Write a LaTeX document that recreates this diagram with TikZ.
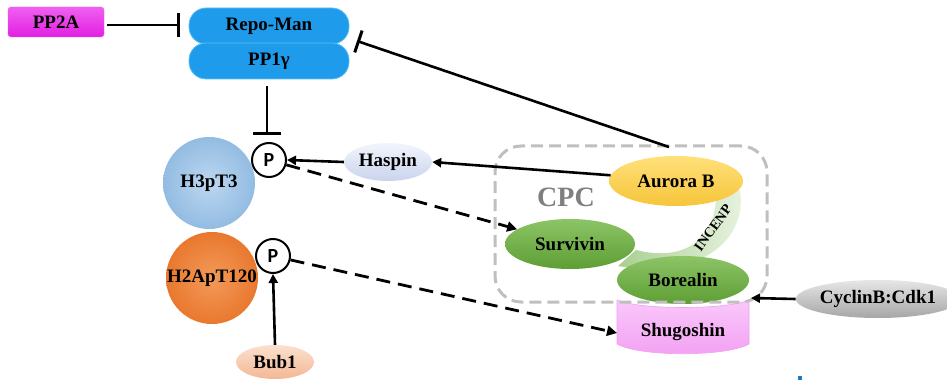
\documentclass[tikz,border=0pt]{standalone}
\usepackage{fontspec}
\setmainfont{Liberation Serif}
\newfontfamily\pfont{Carlito}
\usetikzlibrary{shapes.geometric,arrows.meta,calc}
\definecolor{magA}{HTML}{E21FE2}
\definecolor{magB}{HTML}{F060F0}
\definecolor{blueA}{HTML}{1E9BEA}
\definecolor{blueB}{HTML}{5CC0F5}
\definecolor{lblueA}{HTML}{93BCE2}
\definecolor{lblueB}{HTML}{BCD7F0}
\definecolor{orA}{HTML}{E9782E}
\definecolor{orB}{HTML}{F39A5A}
\definecolor{hasA}{HTML}{C9D4EC}
\definecolor{hasB}{HTML}{F2F5FC}
\definecolor{bubA}{HTML}{F3B894}
\definecolor{bubB}{HTML}{FBE0CE}
\definecolor{goldA}{HTML}{F6C53A}
\definecolor{goldB}{HTML}{FFE07A}
\definecolor{grnA}{HTML}{5E9E34}
\definecolor{grnB}{HTML}{8CC466}
\definecolor{incA}{HTML}{A9CF92}
\definecolor{incB}{HTML}{EAF4E2}
\definecolor{pinkA}{HTML}{F2A0F2}
\definecolor{pinkB}{HTML}{FAC8FA}
\definecolor{greyA}{HTML}{A6A6A6}
\definecolor{greyB}{HTML}{E6E6E6}
\definecolor{cpcgrey}{HTML}{BFBFBF}
\definecolor{cpctext}{HTML}{7F7F7F}
\begin{document}
\begin{tikzpicture}[x=1pt,y=-1pt,
  lab/.style={font=\fontsize{19}{20}\selectfont\bfseries, inner sep=0pt},
  capsule/.style={lab, rectangle, rounded corners=17pt, minimum width=160pt, minimum height=36pt, fill=blueA, draw=blueB, line width=0.8pt},
  oval/.style={lab, ellipse, inner sep=0pt},
  ball/.style={lab, circle, minimum size=92pt},
  pcirc/.style={circle, draw=black, line width=2pt, fill=white, minimum size=34pt, inner sep=0pt, font=\pfont\fontsize{20}{20}\selectfont\bfseries},
  act/.style={line width=2.6pt, -{Triangle[length=9pt,width=9pt]}},
  dact/.style={line width=2.8pt, dash pattern=on 14pt off 8pt, -{Triangle[length=10pt,width=10pt]}},
  inh/.style={line width=2.6pt, -{Bar[width=#1, line width=3pt]}},
  inh/.default=24pt
]
\useasboundingbox (0,0) rectangle (947,382);

% PP2A
\node[lab, rectangle, rounded corners=3pt, minimum width=96pt, minimum height=30pt, top color=magB, bottom color=magA, draw=magB] (pp2a) at (56,22) {PP2A};
% Repo-Man / PP1g
\node[capsule] (repo) at (269,26) {Repo-Man};
\node[capsule] (pp1) at (269,61) {PP1γ};
\coordinate (pp2astart) at (107,25);
\coordinate (pp2aend) at (180,25);
\coordinate (repoend) at (357,41);
\coordinate (pp1start) at (267,86);
\coordinate (pp1end) at (267,135);

% histones
\node[ball, inner color=lblueB, outer color=lblueA] (h3) at (209,183) {H3pT3};
\node[ball, inner color=orB, outer color=orA] (h2a) at (212,278) {H2ApT120};
\node[pcirc] (p1) at (269,160) {P};
\node[pcirc] (p2) at (273,256) {P};

% Haspin, Bub1
\node[oval, minimum width=88pt, minimum height=38pt, top color=hasB, bottom color=hasA] (has) at (388,162) {Haspin};
\node[oval, minimum width=78pt, minimum height=34pt, top color=bubB, bottom color=bubA] (bub) at (275,362) {Bub1};

% INCENP band
\path[left color=incA, right color=incB]
  (740,190) .. controls (748,240) and (700,280) .. (618,266)
  -- (636,250) .. controls (684,262) and (714,240) .. (716,198) -- cycle;
\node[font=\fontsize{14}{14}\selectfont\bfseries, rotate=54, inner sep=0pt] (incenp) at (713,228) {INCENP};

% CPC members
\node[oval, minimum width=134pt, minimum height=50pt, top color=goldB, bottom color=goldA] (aur) at (676,181) {Aurora B};
\node[oval, minimum width=130pt, minimum height=50pt, top color=grnB, bottom color=grnA] (surv) at (570,244) {Survivin};
\node[oval, minimum width=132pt, minimum height=48pt, top color=grnB, bottom color=grnA] (bor) at (683,280) {Borealin};

% Shugoshin
\path[top color=pinkB, bottom color=pinkA, draw=pinkA, line width=0.6pt]
  (617,300) -- (617,344) .. controls (640,357) and (726,357) .. (749,344)
  -- (749,300) .. controls (726,310) and (640,310) .. cycle;
\node[lab] (shug) at (683,332) {Shugoshin};
\coordinate (shugin) at (617,333);

% CPC box
\node[draw=cpcgrey, line width=3pt, dash pattern=on 12pt off 6pt, rounded corners=26pt, minimum width=272pt, minimum height=156pt, inner sep=0pt] (cpcbox) at (631,224) {};
\node[font=\fontsize{28}{28}\selectfont\bfseries, text=cpctext, inner sep=0pt] (cpc) at (566,197) {CPC};

% CyclinB:Cdk1
\node[oval, minimum width=134pt, minimum height=38pt, top color=greyB, bottom color=greyA] (cyc) at (878,299) {CyclinB:Cdk1};
\coordinate (cycend) at (751,298);

% connectors
\draw[inh] (pp2astart) -- (pp2aend);
\draw[inh=28pt] (pp1start) -- (pp1end);
\coordinate (aurtop) at (669,147);
\draw[inh=23pt] (aurtop) -- (repoend);
\draw[act] (has.west) -- (p1.east);
\draw[act] (aur.175) -- (has.east);
\draw[act] (bub.north) -- (p2.south);
\draw[dact] (p1) -- (surv);
\draw[dact] (p2) -- (shugin);
\draw[act] (cyc.west) -- (cycend);

% small dot
\fill[blueA!80!black] (798,376) rectangle (802,380);
\end{tikzpicture}
\end{document}
